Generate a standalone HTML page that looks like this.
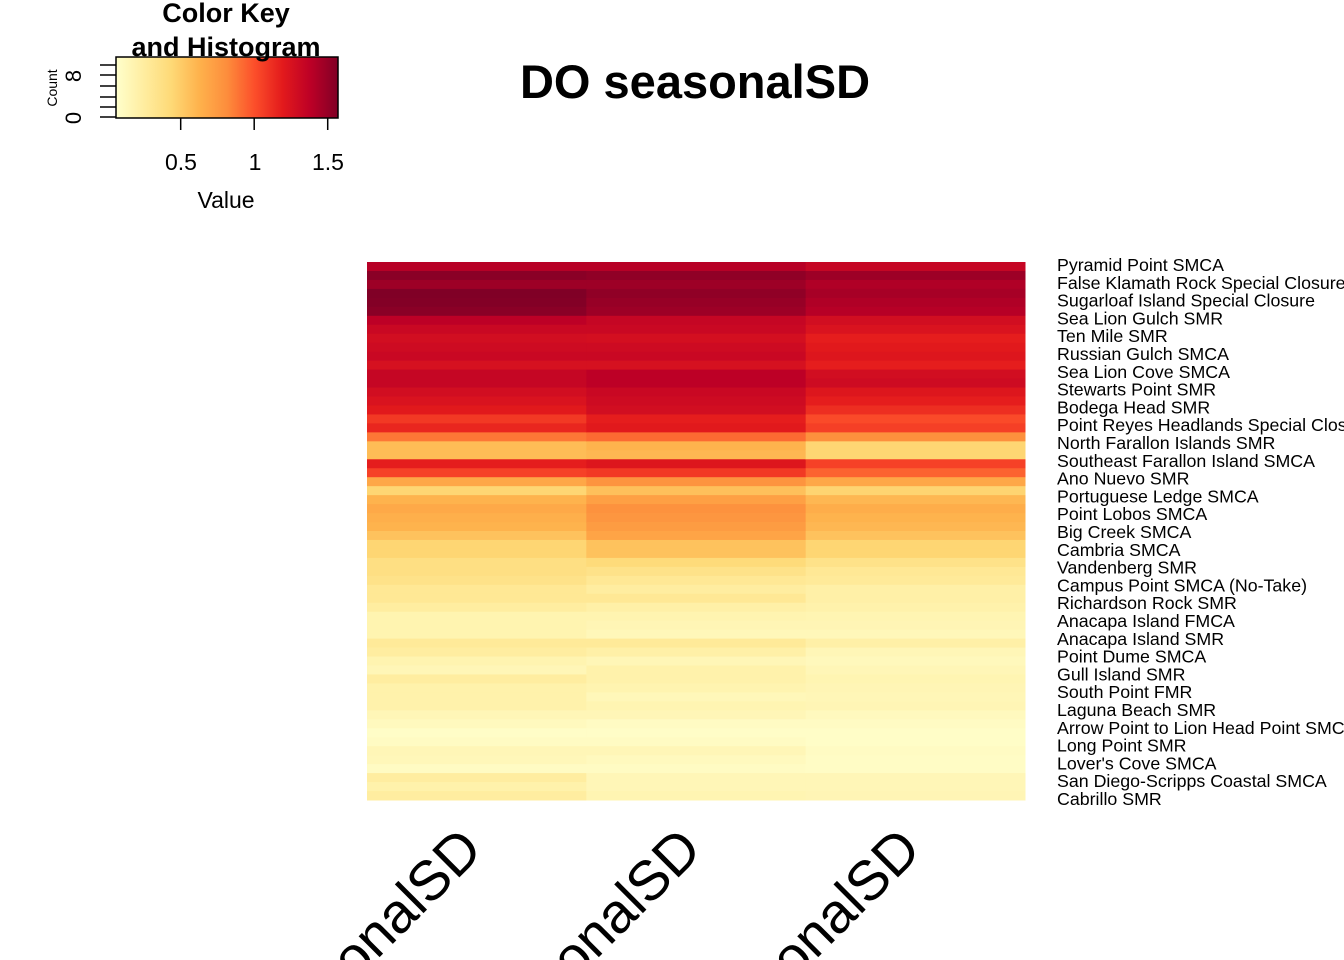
<!DOCTYPE html>
<html><head><meta charset="utf-8"><style>
html,body{margin:0;padding:0;background:#fff;overflow:hidden;width:1344px;height:960px;}
svg{display:block;font-family:"Liberation Sans",Arial,sans-serif;overflow:hidden;}
</style></head><body>
<svg id="chart" width="1344" height="960" viewBox="0 0 1344 960">
<g id="cells"></g>
<g id="rowlabels"></g>
<g id="collabels"></g>
<text x="695" y="98" text-anchor="middle" font-size="47" font-weight="bold">DO seasonalSD</text>
<g>
<defs><linearGradient id="kg" x1="0" x2="1" y1="0" y2="0">
<stop offset="0" stop-color="#FFFFCC"/><stop offset="0.125" stop-color="#FFEDA0"/><stop offset="0.25" stop-color="#FED976"/><stop offset="0.375" stop-color="#FEB24C"/><stop offset="0.5" stop-color="#FD8D3C"/><stop offset="0.625" stop-color="#FC4E2A"/><stop offset="0.75" stop-color="#E31A1C"/><stop offset="0.875" stop-color="#BD0026"/><stop offset="1" stop-color="#800026"/></linearGradient></defs>
<rect x="116" y="57" width="222" height="61" fill="url(#kg)" stroke="#000" stroke-width="1.5"/>
<text x="226" y="22" text-anchor="middle" font-size="27" font-weight="bold">Color Key</text>
<text x="226" y="56" text-anchor="middle" font-size="27" font-weight="bold">and Histogram</text>
<g id="keyticks" stroke="#000" stroke-width="1.5"></g>
<text x="181" y="170" text-anchor="middle" font-size="23">0.5</text>
<text x="255" y="170" text-anchor="middle" font-size="23">1</text>
<text x="328" y="170" text-anchor="middle" font-size="23">1.5</text>
<text x="226" y="208" text-anchor="middle" font-size="23">Value</text>
<text transform="translate(81,118) rotate(-90)" text-anchor="middle" font-size="22">0</text>
<text transform="translate(81,76) rotate(-90)" text-anchor="middle" font-size="22">8</text>
<text transform="translate(57,88) rotate(-90)" text-anchor="middle" font-size="14">Count</text>
</g>
</svg>
<script>
const cols = ["DO.seasonalSD","DO.seasonalSD","DO.seasonalSD"];
const col1 = [1.4,1.54,1.48,1.57,1.56,1.54,1.38,1.32,1.28,1.3,1.32,1.26,1.34,1.34,1.28,1.24,1.2,1.08,1.15,0.88,0.58,0.58,1.18,1.05,0.68,0.45,0.62,0.67,0.64,0.62,
0.55,0.45,0.45,0.38,0.38,0.35,0.3,0.3,0.25,0.18,0.18,0.18,0.28,0.25,0.18,0.15,0.25,0.2,0.2,0.2,0.15,0.12,0.08,0.1,0.15,0.14,0.1,0.25,0.2,0.25];
const col2 = [1.4,1.52,1.48,1.52,1.5,1.48,1.34,1.32,1.27,1.3,1.32,1.26,1.38,1.38,1.32,1.3,1.28,1.18,1.2,0.92,0.62,0.6,1.22,1.08,0.78,0.56,0.72,0.79,0.77,0.74,
0.7,0.55,0.55,0.42,0.35,0.3,0.25,0.3,0.22,0.18,0.16,0.14,0.28,0.22,0.15,0.2,0.2,0.18,0.14,0.17,0.15,0.1,0.08,0.1,0.15,0.12,0.1,0.15,0.15,0.17];
const col3 = [1.34,1.48,1.42,1.45,1.42,1.4,1.28,1.24,1.18,1.2,1.22,1.18,1.28,1.3,1.22,1.18,1.12,1.02,1.06,0.8,0.45,0.45,1.05,0.94,0.68,0.46,0.6,0.65,0.62,0.6,
0.55,0.45,0.45,0.35,0.3,0.28,0.22,0.22,0.2,0.17,0.16,0.14,0.22,0.15,0.13,0.15,0.17,0.16,0.15,0.16,0.12,0.1,0.08,0.08,0.1,0.09,0.09,0.15,0.15,0.16];
const rowLabels = ["Pyramid Point SMCA","False Klamath Rock Special Closure","Sugarloaf Island Special Closure","Sea Lion Gulch SMR","Ten Mile SMR","Russian Gulch SMCA","Sea Lion Cove SMCA","Stewarts Point SMR","Bodega Head SMR","Point Reyes Headlands Special Closure","North Farallon Islands SMR","Southeast Farallon Island SMCA","Ano Nuevo SMR","Portuguese Ledge SMCA","Point Lobos SMCA","Big Creek SMCA","Cambria SMCA","Vandenberg SMR","Campus Point SMCA (No-Take)","Richardson Rock SMR","Anacapa Island FMCA","Anacapa Island SMR","Point Dume SMCA","Gull Island SMR","South Point FMR","Laguna Beach SMR","Arrow Point to Lion Head Point SMCA","Long Point SMR","Lover's Cove SMCA","San Diego-Scripps Coastal SMCA","Cabrillo SMR"];
const keyTicks = [0.5,1,1.5];
const vmin = 0.06, vmax = 1.57;
const pal = ["#FFFFCC","#FFEDA0","#FED976","#FEB24C","#FD8D3C","#FC4E2A","#E31A1C","#BD0026","#800026"];
function hex(h){return [1,3,5].map(i=>parseInt(h.substr(i,2),16));}
function color(v){let t=Math.max(0,Math.min(1,(v-vmin)/(vmax-vmin)))*(pal.length-1);let i=Math.min(pal.length-2,Math.floor(t));let f=t-i;let a=hex(pal[i]),b=hex(pal[i+1]);return "rgb("+a.map((x,k)=>Math.round(x+(b[k]-x)*f)).join(",")+")";}
const X0=367,X1=1025,Y0=262,Y1=800;
const series=[col1,col2,col3];
const nR=col1.length, cw=(X1-X0)/cols.length, rh=(Y1-Y0)/nR;
const xs=c=>X0+c*cw, ys=r=>Y0+r*rh;
const NS="http://www.w3.org/2000/svg";
const cells=document.getElementById('cells');
series.forEach((s,c)=>s.forEach((v,r)=>{
 const e=document.createElementNS(NS,'rect');
 e.setAttribute('x',xs(c));e.setAttribute('y',ys(r));e.setAttribute('width',cw+0.5);e.setAttribute('height',rh+0.5);e.setAttribute('fill',color(v));
 
 
 cells.appendChild(e);
}));
const rl=document.getElementById('rowlabels');
const lstep=(799-265)/(rowLabels.length-1);
rowLabels.forEach((l,i)=>{
 const t=document.createElementNS(NS,'text');
 t.setAttribute('x',1057);t.setAttribute('y',265+i*lstep+6);t.setAttribute('font-size','17.8');t.textContent=l;
 
 
 rl.appendChild(t);
});
const cl=document.getElementById('collabels');
cols.forEach((l,c)=>{
 const t=document.createElementNS(NS,'text');
 const cx=xs(c)+cw/2+8;
 t.setAttribute('transform','translate('+cx+',852) rotate(-45)');t.setAttribute('text-anchor','end');t.setAttribute('font-size','56');t.textContent=l;
 
 
 cl.appendChild(t);
});
const kt=document.getElementById('keyticks');
const kx=v=>116+(v-vmin)/(vmax-vmin)*222;
keyTicks.forEach(v=>{
 const ln=document.createElementNS(NS,'line');
 ln.setAttribute('x1',kx(v));ln.setAttribute('x2',kx(v));ln.setAttribute('y1',118);ln.setAttribute('y2',130);
 
 
 kt.appendChild(ln);
});
[65,75,86,97,107,117].forEach(y=>{
 const ln=document.createElementNS(NS,'line');
 ln.setAttribute('x1',100);ln.setAttribute('x2',116);ln.setAttribute('y1',y);ln.setAttribute('y2',y);
 
 
 kt.appendChild(ln);
});
</script>
</body></html>
